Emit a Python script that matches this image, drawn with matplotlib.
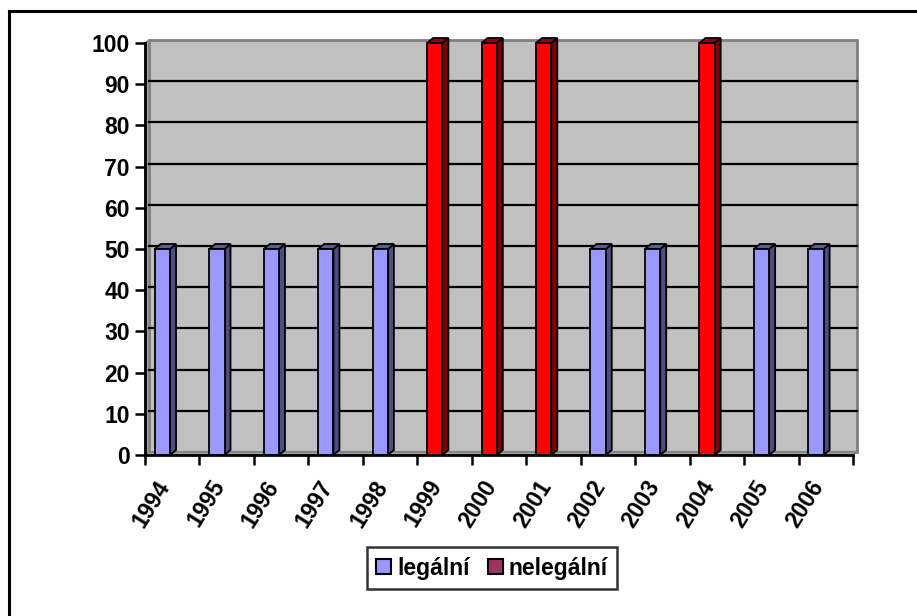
import matplotlib
matplotlib.use("Agg")
import matplotlib.pyplot as plt
from matplotlib.patches import Rectangle, Polygon, Patch
from matplotlib.lines import Line2D
import matplotlib.transforms as mtransforms

plt.rcParams['font.family'] = ['Liberation Sans', 'DejaVu Sans']
plt.rcParams['font.weight'] = 'bold'

# data
years = ['1994', '1995', '1996', '1997', '1998', '1999', '2000',
         '2001', '2002', '2003', '2004', '2005', '2006']
legal = [50, 50, 50, 50, 50, 0, 0, 0, 50, 50, 0, 50, 50]
illegal = [0, 0, 0, 0, 0, 100, 100, 100, 0, 0, 100, 0, 0]
series_names = ['legální', 'nelegální']
yticks = [0, 10, 20, 30, 40, 50, 60, 70, 80, 90, 100]

W, H = 917, 616
fig = plt.figure(figsize=(W / 100, H / 100), dpi=100)
x0, x1, y0, y1 = 145, 853, 455, 43          # plot area in pixels
ax = fig.add_axes([x0 / W, (H - y0) / H, (x1 - x0) / W, (y0 - y1) / H])
n = len(years)
ax.set_xlim(0, n)
ax.set_ylim(0, 100)
ax.set_facecolor('none')

px_x = (x1 - x0) / n          # pixels per category
px_y = (y0 - y1) / 100.0      # pixels per unit
wall = mtransforms.offset_copy(ax.transData, fig, x=4, y=3, units='dots')

# back wall, side wall, floor
ax.add_patch(Rectangle((0, 0), n, 100, facecolor='#c0c0c0', edgecolor='#808080',
                       lw=2, transform=wall, clip_on=False, zorder=0))
wdx, wdy = 4 / px_x, 3 / px_y
ax.add_patch(Polygon([(0, 0), (wdx, wdy), (wdx, 100 + wdy), (0, 100)], closed=True,
                     facecolor='#a0a0a0', edgecolor='#808080', lw=1, clip_on=False, zorder=0.5))
ax.add_patch(Polygon([(0, 0), (n, 0), (n + wdx, wdy), (wdx, wdy)], closed=True,
                     facecolor='#a0a0a0', edgecolor='#808080', lw=1, clip_on=False, zorder=0.5))
for v in yticks[1:-1]:
    ax.plot([0, n], [v, v], color='black', lw=1.6, transform=wall, clip_on=False, zorder=1)

# 3d-looking bars
ddx, ddy = 6 / px_x, 5 / px_y
bw = 0.28
styles = [('#9999ff', '#4d4d80', '#5c5c99'), ('#ff0000', '#800000', '#990000')]
for vals, (front, side, top) in zip([legal, illegal], styles):
    for i, h in enumerate(vals):
        if h == 0:
            continue
        xl = i + 0.18
        xr = xl + bw
        ax.add_patch(Polygon([(xr, 0), (xr + ddx, ddy), (xr + ddx, h + ddy), (xr, h)],
                             closed=True, facecolor=side, edgecolor='black', lw=1.3,
                             clip_on=False, zorder=3))
        ax.add_patch(Polygon([(xl, h), (xr, h), (xr + ddx, h + ddy), (xl + ddx, h + ddy)],
                             closed=True, facecolor=top, edgecolor='black', lw=1.3,
                             clip_on=False, zorder=3))
        ax.add_patch(Rectangle((xl, 0), bw, h, facecolor=front, edgecolor='black',
                               lw=1.3, clip_on=False, zorder=4))

# axes styling
for s in ['top', 'right']:
    ax.spines[s].set_visible(False)
for s in ['left', 'bottom']:
    ax.spines[s].set_linewidth(2)
    ax.spines[s].set_zorder(5)
ax.set_yticks(yticks)
ax.set_yticklabels([str(v) for v in yticks], fontsize=16.5, fontweight='bold')
ax.set_xticks(range(n + 1))
ax.set_xticklabels([])
ax.tick_params(axis='y', which='major', pad=4)
ax.tick_params(axis='both', which='major', direction='out', length=7, width=1.8)

# rotated year labels, placed under each category
lbl_tr = mtransforms.offset_copy(ax.get_xaxis_transform(), fig, x=-17, y=-21, units='dots')
for i, yr in enumerate(years):
    ax.text(i + 0.5, 0, yr, transform=lbl_tr, rotation=58, ha='right', va='top',
            rotation_mode='anchor', fontsize=16.5, fontweight='bold', clip_on=False)

# legend
handles = [Patch(facecolor='#9999ff', edgecolor='black', lw=1.5),
           Patch(facecolor='#993366', edgecolor='black', lw=1.5)]
leg = fig.legend(handles, series_names, loc='center', bbox_to_anchor=(492 / W, 48 / H),
                 ncol=2, fontsize=16.5, frameon=True, fancybox=False, handlelength=0.65,
                 handleheight=0.65, handletextpad=0.25, columnspacing=0.8,
                 borderpad=0.4)
leg.get_frame().set_edgecolor('black')
leg.get_frame().set_linewidth(1.8)

# outer chart border (only left and top visible)
fig.add_artist(Line2D([9 / W, 9 / W], [0, 1 - 11 / H], color='black', lw=2.2))
fig.add_artist(Line2D([9 / W, 1], [1 - 11 / H, 1 - 11 / H], color='black', lw=2.2))

fig.savefig('out.png', dpi=100)
